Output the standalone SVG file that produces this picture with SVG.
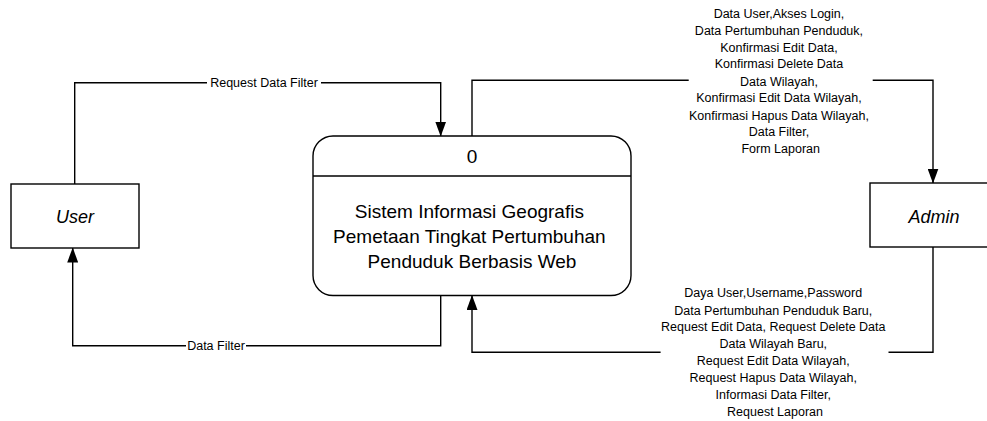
<svg xmlns="http://www.w3.org/2000/svg" width="987" height="421" viewBox="0 0 987 421">
  <defs>
    <marker id="arrow" markerUnits="userSpaceOnUse" markerWidth="15" markerHeight="11" viewBox="0 0 15 11" refX="14.5" refY="5.5" orient="auto">
      <path d="M0,0 L15,5.5 L0,11 Z" fill="#000"/>
    </marker>
    <style>
      .box { fill: #fff; stroke: #000; stroke-width: 1.4; }
      .flow { fill: none; stroke: #000; stroke-width: 1.4; marker-end: url(#arrow); }
      .lbl { font-family: "Liberation Sans", Arial, sans-serif; font-size: 12.5px; text-anchor: middle; fill: #000; }
      .ent { font-family: "Liberation Sans", Arial, sans-serif; font-size: 18px; font-style: italic; text-anchor: middle; fill: #000; }
      .proc { font-family: "Liberation Sans", Arial, sans-serif; font-size: 19px; text-anchor: middle; fill: #000; }
    </style>
  </defs>
  <rect width="987" height="421" fill="#fff"/>

  <!-- data flows -->
  <g id="connectors">
    <path class="flow" d="M74.7,184 V82.7 H207 M321,82.7 H440.7 V136"/>
    <text class="lbl" x="264" y="87">Request Data Filter</text>

    <path class="flow" d="M440.7,295.5 V345.7 H246 M186,345.7 H72.7 V248"/>
    <text class="lbl" x="216" y="350">Data Filter</text>

    <path class="flow" d="M472,136 V80.3 H688.7 M872.7,80.3 H933 V183"/>
    <text class="lbl" x="780.7">
      <tspan x="780.7" y="18">Data User,Akses Login,</tspan>
      <tspan x="780.7" y="35">Data Pertumbuhan Penduduk,</tspan>
      <tspan x="780.7" y="51.5">Konfirmasi Edit Data,</tspan>
      <tspan x="780.7" y="68">Konfirmasi Delete Data</tspan>
      <tspan x="780.7" y="85.5">Data Wilayah,</tspan>
      <tspan x="780.7" y="102">Konfirmasi Edit Data Wilayah,</tspan>
      <tspan x="780.7" y="119.5">Konfirmasi Hapus Data Wilayah,</tspan>
      <tspan x="780.7" y="136">Data Filter,</tspan>
      <tspan x="780.7" y="153">Form Laporan</tspan>
    </text>

    <path class="flow" d="M933,247 V352.3 H888.5 M660.6,352.3 H472 V295.5"/>
    <text class="lbl" x="775">
      <tspan x="775" y="297">Daya User,Username,Password</tspan>
      <tspan x="775" y="314.5">Data Pertumbuhan Penduduk Baru,</tspan>
      <tspan x="775" y="331">Request Edit Data, Request Delete Data</tspan>
      <tspan x="775" y="348">Data Wilayah Baru,</tspan>
      <tspan x="775" y="364.5">Request Edit Data Wilayah,</tspan>
      <tspan x="775" y="381.5">Request Hapus Data Wilayah,</tspan>
      <tspan x="775" y="399">Informasi Data Filter,</tspan>
      <tspan x="775" y="416">Request Laporan</tspan>
    </text>
  </g>

  <!-- external entity: User -->
  <g id="user">
    <rect class="box" x="11" y="184" width="128" height="64"/>
    <text class="ent" x="75" y="222.5">User</text>
  </g>

  <!-- process 0 -->
  <g id="process-0">
    <rect class="box" x="313" y="136" width="318" height="159.5" rx="20" ry="20"/>
    <line x1="313" y1="176" x2="631" y2="176" stroke="#000" stroke-width="1.4"/>
    <text class="proc" x="472" y="163">0</text>
    <text class="proc" x="472">
      <tspan x="472" y="217.5">Sistem Informasi Geografis</tspan>
      <tspan x="472" y="243">Pemetaan Tingkat Pertumbuhan</tspan>
      <tspan x="472" y="268">Penduduk Berbasis Web</tspan>
    </text>
  </g>

  <!-- external entity: Admin -->
  <g id="admin">
    <rect class="box" x="870" y="183" width="130" height="64"/>
    <text class="ent" x="934" y="222.5">Admin</text>
  </g>
</svg>
